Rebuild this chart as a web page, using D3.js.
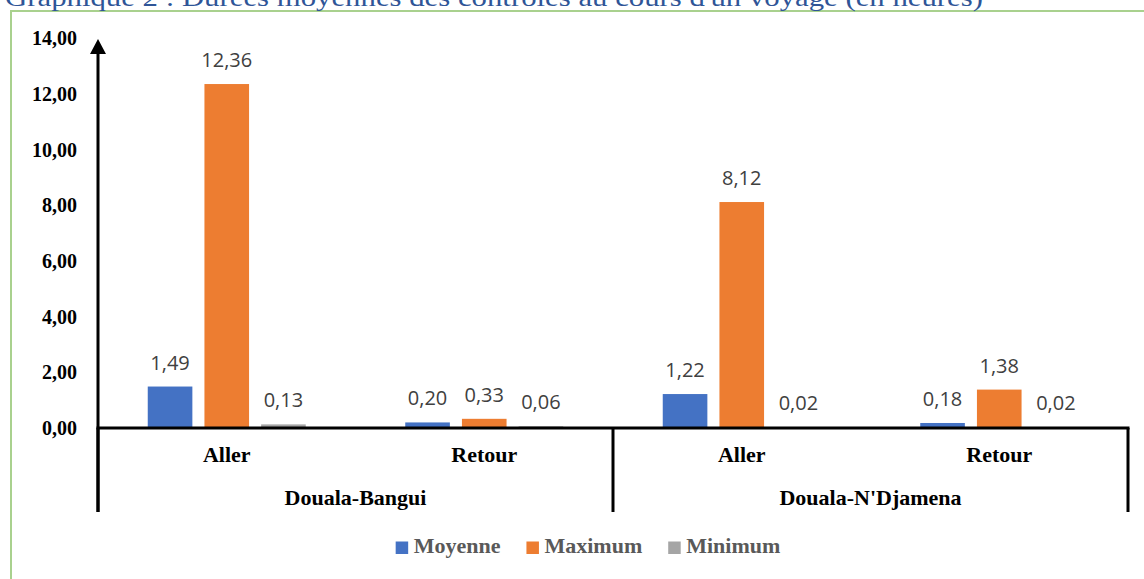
<!DOCTYPE html>
<html>
<head>
<meta charset="utf-8">
<script src="https://cdn.jsdelivr.net/npm/d3@7"></script>
<style>
  html, body { margin: 0; padding: 0; background: #ffffff; }
  svg { display: block; }
</style>
</head>
<body>
<svg id="chart" width="1144" height="579"></svg>
<script>
// Durées moyennes des contrôles au cours d'un voyage (en heures)
const titleText = "Graphique 2 : Durées moyennes des contrôles au cours d'un voyage (en heures)";
const routes = ["Douala-Bangui", "Douala-N'Djamena"];
const directions = ["Aller", "Retour"];
const seriesNames = ["Moyenne", "Maximum", "Minimum"];
const seriesColors = ["#4472c4", "#ed7d31", "#a5a5a5"];
// one value per (route, direction), in order: Bangui Aller, Bangui Retour, N'Djamena Aller, N'Djamena Retour
const moyenne = [1.49, 0.20, 1.22, 0.18];
const maximum = [12.36, 0.33, 8.12, 1.38];
const minimum = [0.13, 0.06, 0.02, 0.02];
const yTicks = [0, 2, 4, 6, 8, 10, 12, 14];

const seriesValues = [moyenne, maximum, minimum];
const cats = [];
routes.forEach(r => directions.forEach(d => cats.push({ route: r, dir: d, key: r + "|" + d })));

const fr = d3.formatLocale({ decimal: ",", thousands: " ", grouping: [3], currency: ["", " €"] });
const fmt = fr.format(".2f");

const svg = d3.select("#chart");

// page frame
svg.append("path")
  .attr("d", "M11,600 L11,11 L1150,11")
  .attr("fill", "none")
  .attr("stroke", "#a9d18e")
  .attr("stroke-width", 2);

// heading, running off the top of the page
const title = svg.append("text")
  .attr("x", 5).attr("y", 6)
  .attr("font-family", "'Liberation Serif', serif")
  .attr("font-size", 26)
  .attr("fill", "#2f5597")
  .text(titleText);
title.attr("textLength", 978).attr("lengthAdjust", "spacingAndGlyphs");

const plotLeft = 98, plotRight = 1128, plotTop = 38.4, plotBottom = 428;

const y = d3.scaleLinear().domain([0, 14]).range([plotBottom, plotTop]);
const x0 = d3.scaleBand().domain(cats.map(c => c.key)).range([plotLeft, plotRight]).padding(0);
const x1 = d3.scaleBand().domain(seriesNames).range([-79, 79]).paddingInner(0.213).paddingOuter(0);

// y tick labels
svg.append("g").selectAll("text")
  .data(yTicks)
  .join("text")
  .attr("x", 77)
  .attr("y", d => y(d) + 7)
  .attr("text-anchor", "end")
  .attr("font-family", "'Liberation Serif', serif")
  .attr("font-weight", "bold")
  .attr("font-size", 20)
  .attr("fill", "#000")
  .text(d => fmt(d));

// bars
const bars = [];
cats.forEach((c, i) => {
  seriesNames.forEach((s, j) => {
    bars.push({ cat: c.key, series: s, color: seriesColors[j], value: seriesValues[j][i] });
  });
});

svg.append("g").selectAll("rect")
  .data(bars)
  .join("rect")
  .attr("x", d => x0(d.cat) + x0.bandwidth() / 2 + x1(d.series))
  .attr("y", d => y(d.value))
  .attr("width", x1.bandwidth())
  .attr("height", d => y(0) - y(d.value))
  .attr("fill", d => d.color);

// value labels
svg.append("g").selectAll("text")
  .data(bars)
  .join("text")
  .attr("x", d => x0(d.cat) + x0.bandwidth() / 2 + x1(d.series) + x1.bandwidth() / 2)
  .attr("y", d => y(d.value) - 17)
  .attr("text-anchor", "middle")
  .attr("font-family", "'Open Sans', sans-serif")
  .attr("font-size", 20)
  .attr("fill", "#404040")
  .text(d => fmt(d.value));

// axes
const axisG = svg.append("g").attr("stroke", "#000").attr("stroke-width", 3).attr("fill", "none");
axisG.append("line")
  .attr("x1", plotLeft).attr("x2", plotLeft)
  .attr("y1", 512).attr("y2", 52);
axisG.append("line")
  .attr("x1", plotLeft - 1.5).attr("x2", plotRight + 1.5)
  .attr("y1", y(0)).attr("y2", y(0));
// group separators
[plotLeft, x0(cats[2].key), plotRight].forEach(xv => {
  axisG.append("line").attr("x1", xv).attr("x2", xv).attr("y1", y(0)).attr("y2", 512);
});
// arrow head on the value axis
svg.append("path")
  .attr("d", `M${plotLeft},39 L${plotLeft - 8},54 L${plotLeft + 8},54 Z`)
  .attr("fill", "#000");

// direction labels
svg.append("g").selectAll("text")
  .data(cats)
  .join("text")
  .attr("x", d => x0(d.key) + x0.bandwidth() / 2)
  .attr("y", 462)
  .attr("text-anchor", "middle")
  .attr("font-family", "'Liberation Serif', serif")
  .attr("font-weight", "bold")
  .attr("font-size", 22)
  .attr("fill", "#000")
  .text(d => d.dir);

// route labels
svg.append("g").selectAll("text")
  .data(routes)
  .join("text")
  .attr("x", (d, i) => x0(cats[i * 2].key) + x0.bandwidth())
  .attr("y", 505)
  .attr("text-anchor", "middle")
  .attr("font-family", "'Liberation Serif', serif")
  .attr("font-weight", "bold")
  .attr("font-size", 22)
  .attr("fill", "#000")
  .text(d => d);

// legend
const legend = svg.append("g");
const items = legend.selectAll("g").data(seriesNames).join("g");
items.append("rect")
  .attr("width", 12.5).attr("height", 12.5)
  .attr("y", 541.5)
  .attr("fill", (d, i) => seriesColors[i]);
items.append("text")
  .attr("x", 18)
  .attr("y", 553)
  .attr("font-family", "'Liberation Serif', serif")
  .attr("font-weight", "bold")
  .attr("font-size", 22)
  .attr("fill", "#595959")
  .text(d => d);
const widths = [];
items.each(function () {
  const w = 18 + d3.select(this).select("text").node().getComputedTextLength();
  widths.push(w);
});
const gapLegend = 26;
const totalW = d3.sum(widths) + gapLegend * (widths.length - 1);
let cursor = 588 - totalW / 2;
items.attr("transform", (d, i) => {
  const t = `translate(${cursor},0)`;
  cursor += widths[i] + gapLegend;
  return t;
});
</script>
</body>
</html>
